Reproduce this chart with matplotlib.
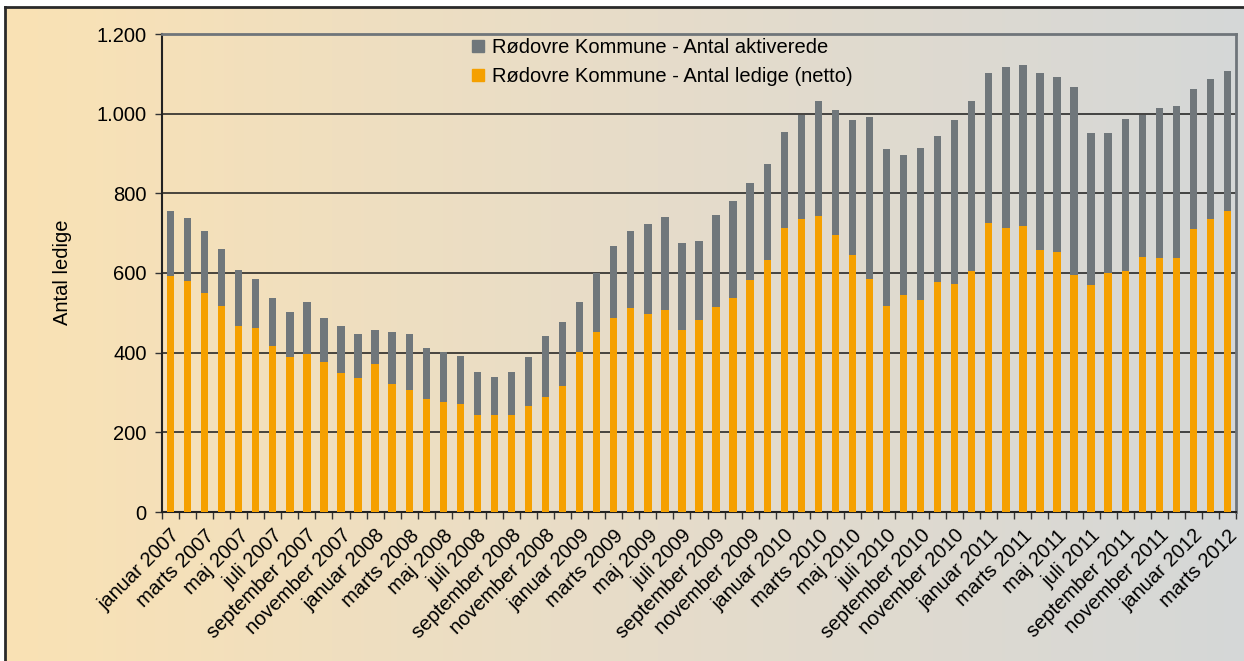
import numpy as np
import matplotlib
matplotlib.use("Agg")
import matplotlib.pyplot as plt
from matplotlib.patches import Patch

plt.rcParams['font.family'] = ['Liberation Sans', 'DejaVu Sans']

# ---- data -------------------------------------------------------------
months = ["januar", "februar", "marts", "april", "maj", "juni", "juli",
          "august", "september", "oktober", "november", "december"]
years = [2007, 2008, 2009, 2010, 2011, 2012]
categories = [f"{m} {y}" for y in years for m in months][:63]   # jan 2007 - marts 2012

ledige = [593, 581, 551, 518, 468, 461, 416, 388, 396, 376, 348, 336,
          371, 321, 306, 283, 276, 271, 243, 243, 243, 266, 288, 316,
          401, 453, 488, 511, 496, 508, 458, 481, 514, 538, 583, 633,
          713, 736, 743, 696, 646, 586, 516, 546, 533, 578, 573, 606,
          726, 713, 718, 658, 653, 596, 571, 601, 606, 641, 638, 638,
          711, 736, 756]
aktiverede = [163, 157, 155, 143, 140, 125, 120, 113, 130, 112, 118, 112,
              85, 130, 142, 128, 125, 120, 108, 95, 108, 122, 155, 162,
              127, 148, 180, 195, 227, 233, 218, 200, 232, 243, 243, 240,
              240, 260, 290, 312, 337, 405, 395, 350, 380, 365, 410, 425,
              375, 405, 403, 443, 440, 472, 380, 350, 380, 355, 375, 380,
              352, 352, 352]
yticks = [0, 200, 400, 600, 800, 1000, 1200]
ytick_labels = ["0", "200", "400", "600", "800", "1.000", "1.200"]
series_names = ["Rødovre Kommune - Antal aktiverede",
                "Rødovre Kommune - Antal ledige (netto)"]
title = "Antal ledige og aktiverede i Rødovre Kommune, januar 2007 - marts 2012"

GREY = "#70777B"
ORANGE = "#F5A000"
FS = 14.5

W, H = 1244, 661
fig = plt.figure(figsize=(W / 100, H / 100), dpi=100)
fig.patch.set_facecolor("white")

# ---- gradient background box -----------------------------------------
bg = fig.add_axes([5 / W, -0.05, 1.05, 1.05 - 7 / H])
grad_left = np.array([250, 226, 180]) / 255
grad_mid = np.array([230, 220, 202]) / 255
grad_right = np.array([211, 215, 217]) / 255
t = np.linspace(0, 1, 400)
cols = np.where(t[:, None] < 0.5,
                grad_left + (grad_mid - grad_left) * (t[:, None] / 0.5),
                grad_mid + (grad_right - grad_mid) * ((t[:, None] - 0.5) / 0.5))
bg.imshow(cols[None, :, :], aspect="auto", extent=[0, 1, 0, 1])
bg.set_xlim(0, 1); bg.set_ylim(0, 1)
bg.set_xticks([]); bg.set_yticks([])
for s in ["right", "bottom"]:
    bg.spines[s].set_visible(False)
for s in ["left", "top"]:
    bg.spines[s].set_color("#2a2a2a")
    bg.spines[s].set_linewidth(2)
bg.set_zorder(0)

# ---- title (cut off at the top edge, only descenders show) -----------
fig.text(5 / W, 1.0 + 5.5 / H, title,
         fontsize=14, fontweight="bold", va="baseline", ha="left")

# ---- main axes ---------------------------------------------------------
ax = fig.add_axes([162 / W, 1 - 512 / H, (1236 - 162) / W, (512 - 34) / H])
ax.set_zorder(1)
ax.patch.set_alpha(0)

x = np.arange(len(categories))
bw = 0.43
ax.bar(x, ledige, width=bw, color=ORANGE, zorder=3, label=series_names[1])
ax.bar(x, aktiverede, width=bw, bottom=ledige, color=GREY, zorder=3,
       label=series_names[0])

ax.set_xlim(-0.5, len(categories) - 0.5)
ax.set_ylim(0, 1200)
ax.set_yticks(yticks)
ax.set_yticklabels(ytick_labels, fontsize=FS)
for yv in yticks[1:-1]:
    ax.axhline(yv, color="#1a1a1a", lw=1.1, zorder=1)

ax.set_xticks(x[::2])
ax.set_xticklabels(categories[::2], rotation=45, ha="right",
                   rotation_mode="anchor", fontsize=FS)
ax.set_xticks(np.arange(len(categories) + 1) - 0.5, minor=True)
ax.tick_params(axis="x", which="major", length=0, pad=10)
ax.tick_params(axis="x", which="minor", length=5, width=1, color="#333333")
ax.tick_params(axis="y", length=5, width=1, color="#333333", pad=6)

ax.spines["left"].set_color("#222222")
ax.spines["left"].set_linewidth(1.5)
ax.spines["bottom"].set_color("#222222")
ax.spines["bottom"].set_linewidth(1.5)
ax.spines["top"].set_color("#6f757a")
ax.spines["top"].set_linewidth(2)
ax.spines["right"].set_color("#6f757a")
ax.spines["right"].set_linewidth(2)

fig.text(62 / W, 1 - 272 / H, "Antal ledige", rotation=90, fontsize=FS,
         ha="center", va="center")

handles = [Patch(color=GREY), Patch(color=ORANGE)]
ax.legend(handles, series_names, loc="upper left",
          bbox_to_anchor=((472 - 162) / 1074, (512 - 38) / 478),
          frameon=False, fontsize=FS, handlelength=0.6, handleheight=0.6,
          handletextpad=0.4, labelspacing=0.5, borderpad=0, borderaxespad=0)

fig.savefig("out.png", dpi=100)
